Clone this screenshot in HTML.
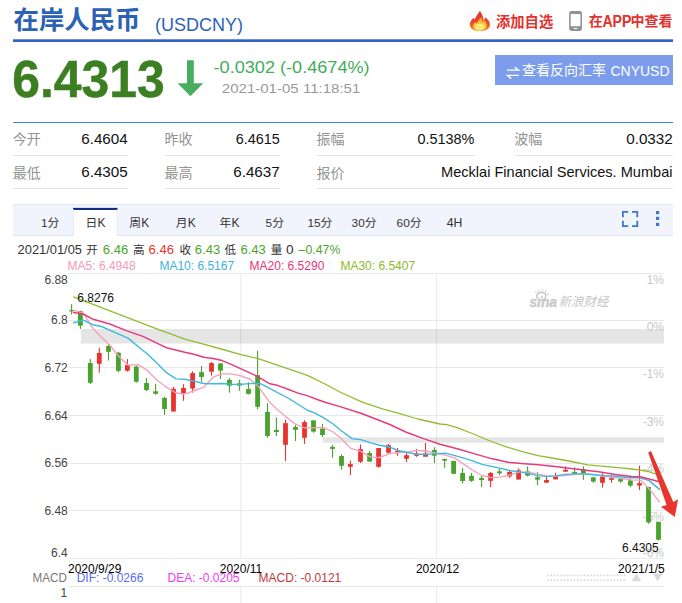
<!DOCTYPE html>
<html><head><meta charset="utf-8"><title>USDCNY</title>
<style>html,body{margin:0;padding:0;background:#fff;}body{width:682px;height:603px;overflow:hidden;position:relative;font-family:"Liberation Sans",sans-serif;}</style></head>
<body>
<svg width="682" height="603" viewBox="0 0 682 603" style="position:absolute;left:0;top:0;display:block" font-family="Liberation Sans, sans-serif">
<rect width="682" height="603" fill="#fff"/>
<text x="13.5" y="28.9" font-size="25.4" font-weight="bold" fill="#2b62b5" font-family="'Liberation Sans', 'Noto Sans CJK SC', sans-serif">在岸人民币</text>
<text x="155" y="30.5" font-size="17.5" fill="#2b62b5" textLength="88" lengthAdjust="spacingAndGlyphs">(USDCNY)</text>
<rect x="13" y="39.3" width="660" height="2.7" fill="#3262c8"/>
<defs><linearGradient id="fg1" x1="0" y1="0" x2="0" y2="1"><stop offset="0" stop-color="#e03426"/><stop offset="0.55" stop-color="#e9452a"/><stop offset="1" stop-color="#f39a2e"/></linearGradient><linearGradient id="fg2" x1="0" y1="0" x2="0" y2="1"><stop offset="0" stop-color="#f59a2f"/><stop offset="0.6" stop-color="#fbd23f"/><stop offset="1" stop-color="#fde44a"/></linearGradient></defs>
<rect x="467" y="10" width="27.8" height="22" fill="#fbfbfb"/>
<path d="M479.9 11 C481.8 13.5 483.3 16.5 483.6 21 C484.2 19.8 484.8 18.5 485.5 17.2 C487.5 19 489.6 21 490 24 C490.5 27.5 487.5 31.1 479.8 31.1 C472.5 31.1 469.3 27.5 469.9 23.4 C470.5 21 472 19.5 473.4 17.8 C473.8 18.5 474.2 19 474.6 19.6 C475.8 16.5 478 14 479.9 11Z" fill="url(#fg1)"/>
<path d="M481.4 17.2 C482 19 482.6 20.5 482.6 22 C483.6 21.5 484.3 21 485 20.5 C486.5 23 487 26 485.5 28 C484 30.2 481.5 30.6 479.6 30.6 C477 30.6 474.5 29.8 473.5 27.5 C472.8 25.5 473.8 23.5 475.2 22 C475.6 22.6 476 23.2 476.4 23.8 C477.5 21 479.5 19 481.4 17.2Z" fill="url(#fg2)"/>
<ellipse cx="479.6" cy="27" rx="4.2" ry="3.2" fill="#fbeb80" opacity="0.9"/>
<text x="496" y="26.5" font-size="14.3" font-weight="bold" fill="#e3312d" font-family="'Liberation Sans', 'Noto Sans CJK SC', sans-serif">添加自选</text>
<rect x="569.1" y="11" width="12.9" height="19.9" rx="2.3" fill="#939393"/>
<rect x="570.7" y="14" width="9.7" height="12.2" fill="#fff"/>
<rect x="573.6" y="27.9" width="3.9" height="1.2" rx="0.6" fill="#fff"/>
<text x="588.8" y="26.2" font-size="14" font-weight="bold" fill="#e3312d" font-family="'Liberation Sans', 'Noto Sans CJK SC', sans-serif">在</text>
<text x="602.4" y="26.7" font-size="15.6" fill="#e3312d" font-weight="bold" textLength="29" lengthAdjust="spacingAndGlyphs">APP</text>
<text x="630.4" y="26.2" font-size="14" font-weight="bold" fill="#e3312d" font-family="'Liberation Sans', 'Noto Sans CJK SC', sans-serif">中查看</text>
<text x="12.2" y="96.6" font-size="51.4" fill="#3b7f22" stroke="#3b7f22" stroke-width="0.5" font-weight="bold" textLength="152.6" lengthAdjust="spacingAndGlyphs">6.4313</text>
<path d="M187 60.3 h6.8 v23 h9.4 L190.4 96.3 L177.6 83.3 h9.4z" fill="#48ad5f"/>
<text x="213.6" y="72.6" font-size="16.4" fill="#44ac5c" textLength="156" lengthAdjust="spacingAndGlyphs">-0.0302 (-0.4674%)</text>
<text x="221.8" y="92.7" font-size="13" fill="#999" textLength="138.5" lengthAdjust="spacingAndGlyphs">2021-01-05 11:18:51</text>
<rect x="495" y="55" width="178" height="30" fill="#7b9deb"/>
<g stroke="#fff" stroke-width="1.4" fill="none"><path d="M507 70.1 H518.6 L514.8 67.2"/><path d="M519 75.4 H507.4 L511.2 78.6"/></g>
<text x="522" y="75.3" font-size="14" fill="#fff" font-family="'Liberation Sans', 'Noto Sans CJK SC', sans-serif">查看反向汇率</text>
<text x="610.5" y="75.7" font-size="14" fill="#fff" textLength="59" lengthAdjust="spacingAndGlyphs">CNYUSD</text>
<rect x="13" y="122" width="660" height="1" fill="#3f7fd6"/>
<rect x="13" y="155" width="115" height="1" fill="#e2e2e2"/>
<rect x="165" y="155" width="115" height="1" fill="#e2e2e2"/>
<rect x="317" y="155" width="158" height="1" fill="#e2e2e2"/>
<rect x="515" y="155" width="158" height="1" fill="#e2e2e2"/>
<rect x="13" y="188" width="115" height="1" fill="#e2e2e2"/>
<rect x="165" y="188" width="115" height="1" fill="#e2e2e2"/>
<rect x="317" y="188" width="356" height="1" fill="#e2e2e2"/>
<text x="12.8" y="144.3" font-size="14" fill="#939393" font-family="'Liberation Sans', 'Noto Sans CJK SC', sans-serif">今开</text>
<text x="164.6" y="144.3" font-size="14" fill="#939393" font-family="'Liberation Sans', 'Noto Sans CJK SC', sans-serif">昨收</text>
<text x="316.6" y="144.3" font-size="14" fill="#939393" font-family="'Liberation Sans', 'Noto Sans CJK SC', sans-serif">振幅</text>
<text x="514.2" y="144.3" font-size="14" fill="#939393" font-family="'Liberation Sans', 'Noto Sans CJK SC', sans-serif">波幅</text>
<text x="12.8" y="177.6" font-size="14" fill="#939393" font-family="'Liberation Sans', 'Noto Sans CJK SC', sans-serif">最低</text>
<text x="164.6" y="177.6" font-size="14" fill="#939393" font-family="'Liberation Sans', 'Noto Sans CJK SC', sans-serif">最高</text>
<text x="316.6" y="177.6" font-size="14" fill="#939393" font-family="'Liberation Sans', 'Noto Sans CJK SC', sans-serif">报价</text>
<text x="127.8" y="144.4" font-size="14.5" fill="#111" text-anchor="end" textLength="46.6" lengthAdjust="spacingAndGlyphs">6.4604</text>
<text x="279.8" y="144.4" font-size="14.5" fill="#111" text-anchor="end" textLength="44" lengthAdjust="spacingAndGlyphs">6.4615</text>
<text x="474.4" y="144.4" font-size="14.5" fill="#111" text-anchor="end" textLength="57" lengthAdjust="spacingAndGlyphs">0.5138%</text>
<text x="672.8" y="144.4" font-size="14.5" fill="#111" text-anchor="end" textLength="46.6" lengthAdjust="spacingAndGlyphs">0.0332</text>
<text x="127.8" y="177.4" font-size="14.5" fill="#111" text-anchor="end" textLength="46.6" lengthAdjust="spacingAndGlyphs">6.4305</text>
<text x="279.8" y="177.4" font-size="14.5" fill="#111" text-anchor="end" textLength="46.6" lengthAdjust="spacingAndGlyphs">6.4637</text>
<text x="672.5" y="177.4" font-size="14.5" fill="#111" text-anchor="end" textLength="231.5" lengthAdjust="spacingAndGlyphs">Mecklai Financial Services. Mumbai</text>
<rect x="13" y="204" width="660" height="32" fill="#f1f4fd"/>
<rect x="13" y="204" width="660" height="1" fill="#e3e8f6"/>
<rect x="13" y="235" width="660" height="1" fill="#dde4f5"/>
<rect x="73" y="208" width="44.6" height="28.3" fill="#fff"/>
<rect x="73" y="207.9" width="44.6" height="2.1" fill="#122c86"/>
<rect x="73" y="209" width="0.8" height="27" fill="#dde4f5"/><rect x="116.8" y="209" width="0.8" height="27" fill="#dde4f5"/>
<text x="41.0" y="227.0" font-size="11.8" fill="#333">1</text>
<text x="47.56" y="226.7" font-size="11.8" fill="#333" font-family="'Liberation Sans', 'Noto Sans CJK SC', sans-serif">分</text>
<text x="85.6" y="226.7" font-size="11.8" fill="#333" font-family="'Liberation Sans', 'Noto Sans CJK SC', sans-serif">日</text>
<text x="97.6" y="227.0" font-size="12" fill="#333">K</text>
<text x="129.3" y="226.7" font-size="11.8" fill="#333" font-family="'Liberation Sans', 'Noto Sans CJK SC', sans-serif">周</text>
<text x="141.3" y="227.0" font-size="12" fill="#333">K</text>
<text x="175.8" y="226.7" font-size="11.8" fill="#333" font-family="'Liberation Sans', 'Noto Sans CJK SC', sans-serif">月</text>
<text x="187.8" y="227.0" font-size="12" fill="#333">K</text>
<text x="219.5" y="226.7" font-size="11.8" fill="#333" font-family="'Liberation Sans', 'Noto Sans CJK SC', sans-serif">年</text>
<text x="231.5" y="227.0" font-size="12" fill="#333">K</text>
<text x="265.6" y="227.0" font-size="11.8" fill="#333">5</text>
<text x="272.16" y="226.7" font-size="11.8" fill="#333" font-family="'Liberation Sans', 'Noto Sans CJK SC', sans-serif">分</text>
<text x="307.5" y="227.0" font-size="11.8" fill="#333">15</text>
<text x="320.62" y="226.7" font-size="11.8" fill="#333" font-family="'Liberation Sans', 'Noto Sans CJK SC', sans-serif">分</text>
<text x="351.6" y="227.0" font-size="11.8" fill="#333">30</text>
<text x="364.72" y="226.7" font-size="11.8" fill="#333" font-family="'Liberation Sans', 'Noto Sans CJK SC', sans-serif">分</text>
<text x="396.6" y="227.0" font-size="11.8" fill="#333">60</text>
<text x="409.72" y="226.7" font-size="11.8" fill="#333" font-family="'Liberation Sans', 'Noto Sans CJK SC', sans-serif">分</text>
<text x="446.8" y="227.0" font-size="12.2" fill="#333">4H</text>
<g fill="none" stroke="#3c78c8" stroke-width="1.8"><path d="M622.9 217.2 v-5.3 h5.3"/><path d="M632 211.9 h5.3 v5.3"/><path d="M637.3 220.8 v5.3 h-5.3"/><path d="M628.2 226.1 h-5.3 v-5.3"/></g>
<rect x="656" y="211" width="3.2" height="3.2" fill="#3c78c8"/>
<rect x="656" y="216.8" width="3.2" height="3.2" fill="#3c78c8"/>
<rect x="656" y="222.8" width="3.2" height="3.2" fill="#3c78c8"/>
<text x="17.6" y="253.8" font-size="12" fill="#333" textLength="64.4" lengthAdjust="spacingAndGlyphs">2021/01/05</text>
<text x="86.2" y="253.6" font-size="11.6" fill="#333" font-family="'Liberation Sans', 'Noto Sans CJK SC', sans-serif">开</text>
<text x="102.8" y="253.8" font-size="12" fill="#4aa52e" textLength="25.4" lengthAdjust="spacingAndGlyphs">6.46</text>
<text x="133" y="253.6" font-size="11.6" fill="#333" font-family="'Liberation Sans', 'Noto Sans CJK SC', sans-serif">高</text>
<text x="148.5" y="253.8" font-size="12" fill="#e8332e" textLength="25.4" lengthAdjust="spacingAndGlyphs">6.46</text>
<text x="179.4" y="253.6" font-size="11.6" fill="#333" font-family="'Liberation Sans', 'Noto Sans CJK SC', sans-serif">收</text>
<text x="194.8" y="253.8" font-size="12" fill="#4aa52e" textLength="25.4" lengthAdjust="spacingAndGlyphs">6.43</text>
<text x="224.6" y="253.6" font-size="11.6" fill="#333" font-family="'Liberation Sans', 'Noto Sans CJK SC', sans-serif">低</text>
<text x="240.4" y="253.8" font-size="12" fill="#4aa52e" textLength="25.4" lengthAdjust="spacingAndGlyphs">6.43</text>
<text x="270.8" y="253.6" font-size="11.6" fill="#333" font-family="'Liberation Sans', 'Noto Sans CJK SC', sans-serif">量</text>
<text x="286" y="253.8" font-size="12" fill="#333" textLength="7.6" lengthAdjust="spacingAndGlyphs">0</text>
<text x="298.6" y="253.8" font-size="12" fill="#4aa52e" textLength="41.8" lengthAdjust="spacingAndGlyphs">–0.47%</text>
<text x="67.6" y="269.8" font-size="12" fill="#f59ab8">MA5: 6.4948</text>
<text x="159.4" y="269.8" font-size="12" fill="#38b4da">MA10: 6.5167</text>
<text x="249.6" y="269.8" font-size="12" fill="#e8357a">MA20: 6.5290</text>
<text x="340.4" y="269.8" font-size="12" fill="#8cba2c">MA30: 6.5407</text>
<rect x="67.5" y="273" width="596.5" height="1" fill="#e9e9e9"/>
<rect x="67.5" y="320" width="596.5" height="1" fill="#e9e9e9"/>
<rect x="67.5" y="367" width="596.5" height="1" fill="#e9e9e9"/>
<rect x="67.5" y="415" width="596.5" height="1" fill="#e9e9e9"/>
<rect x="67.5" y="463" width="596.5" height="1" fill="#e9e9e9"/>
<rect x="67.5" y="510" width="596.5" height="1" fill="#e9e9e9"/>
<rect x="67.5" y="558" width="596.5" height="1" fill="#e9e9e9"/>
<rect x="67.5" y="586" width="596.5" height="1" fill="#e9e9e9"/>
<rect x="240.3" y="273" width="1" height="285" fill="#e9e9e9"/>
<rect x="240.3" y="586" width="1" height="17" fill="#e9e9e9"/>
<rect x="436.1" y="273" width="1" height="285" fill="#e9e9e9"/>
<rect x="436.1" y="586" width="1" height="17" fill="#e9e9e9"/>
<rect x="81" y="329" width="583" height="14.5" fill="#000" opacity="0.1"/>
<rect x="323" y="437.2" width="341" height="5.6" fill="#000" opacity="0.1"/>
<text x="664" y="284.3" font-size="12" fill="#c8c8c8" text-anchor="end">1%</text>
<text x="664" y="330.6" font-size="12" fill="#c8c8c8" text-anchor="end">0%</text>
<text x="664" y="378.2" font-size="12" fill="#c8c8c8" text-anchor="end">-1%</text>
<text x="664" y="425.7" font-size="12" fill="#c8c8c8" text-anchor="end">-3%</text>
<text x="664" y="473.2" font-size="12" fill="#c8c8c8" text-anchor="end">-4%</text>
<text x="664" y="521.3" font-size="12" fill="#c8c8c8" text-anchor="end">-5%</text>
<text x="664" y="557.2" font-size="12" fill="#c8c8c8" text-anchor="end">-6%</text>
<text x="67.8" y="284.3" font-size="12" fill="#444" text-anchor="end">6.88</text>
<text x="67.8" y="324.4" font-size="12" fill="#444" text-anchor="end">6.8</text>
<text x="67.8" y="372.2" font-size="12" fill="#444" text-anchor="end">6.72</text>
<text x="67.8" y="419.9" font-size="12" fill="#444" text-anchor="end">6.64</text>
<text x="67.8" y="467.2" font-size="12" fill="#444" text-anchor="end">6.56</text>
<text x="67.8" y="515" font-size="12" fill="#444" text-anchor="end">6.48</text>
<text x="67.8" y="557.2" font-size="12" fill="#444" text-anchor="end">6.4</text>
<text x="529.4" y="306.6" font-size="13.8" fill="#cbcbcb" stroke="#cbcbcb" stroke-width="0.45" font-weight="bold" font-style="italic" textLength="27.6" lengthAdjust="spacingAndGlyphs">sina</text>
<ellipse cx="541.3" cy="296.1" rx="4.5" ry="3.7" fill="#fff" stroke="#cbcbcb" stroke-width="1.7"/><circle cx="542" cy="296.8" r="1.15" fill="#cbcbcb"/>
<path d="M536.6 292.7 l-1.5 -1.4 M539.2 291.5 l-.5 -1.6 M542.3 291.3 l.4 -1.6 M545.2 292.3 l1.3 -1.3 M547 294.5 l1.6 -.8" fill="none" stroke="#cbcbcb" stroke-width="1.1"/>
<text transform="translate(561.30,295.40) skewX(-14)" x="0" y="11" font-size="12.5" fill="#c6c6c6" font-family="'Liberation Sans', 'Noto Sans CJK SC', sans-serif">新浪财经</text>
<rect x="71.05" y="304.1" width="1.1" height="10.4" fill="#49a22c"/>
<rect x="69.20" y="310.2" width="4.8" height="1.2" fill="#49a22c"/>
<rect x="79.85" y="310.5" width="1.1" height="18.5" fill="#49a22c"/>
<rect x="78.00" y="311.2" width="4.8" height="14.4" fill="#49a22c"/>
<rect x="89.75" y="359.1" width="1.1" height="24.9" fill="#49a22c"/>
<rect x="87.90" y="363" width="4.8" height="19.8" fill="#49a22c"/>
<rect x="98.75" y="347.7" width="1.1" height="24.9" fill="#e8332e"/>
<rect x="96.90" y="353" width="4.8" height="10.8" fill="#e8332e"/>
<rect x="107.95" y="344.4" width="1.1" height="16.1" fill="#49a22c"/>
<rect x="106.10" y="346" width="4.8" height="5.8" fill="#49a22c"/>
<rect x="117.85" y="351.8" width="1.1" height="20.6" fill="#49a22c"/>
<rect x="116.00" y="352.7" width="4.8" height="18.2" fill="#49a22c"/>
<rect x="126.85" y="359.1" width="1.1" height="12.6" fill="#e8332e"/>
<rect x="125.00" y="365.1" width="4.8" height="5.6" fill="#e8332e"/>
<rect x="135.75" y="365.4" width="1.1" height="17.4" fill="#49a22c"/>
<rect x="133.90" y="366.6" width="4.8" height="15.1" fill="#49a22c"/>
<rect x="145.95" y="378" width="1.1" height="13.0" fill="#49a22c"/>
<rect x="144.10" y="383" width="4.8" height="7.0" fill="#49a22c"/>
<rect x="155.05" y="383.8" width="1.1" height="10.8" fill="#49a22c"/>
<rect x="153.20" y="391.3" width="4.8" height="2.5" fill="#49a22c"/>
<rect x="163.95" y="396.8" width="1.1" height="18.1" fill="#49a22c"/>
<rect x="162.10" y="397.9" width="4.8" height="11.2" fill="#49a22c"/>
<rect x="172.95" y="386.8" width="1.1" height="24.7" fill="#e8332e"/>
<rect x="171.10" y="388.8" width="4.8" height="22.7" fill="#e8332e"/>
<rect x="182.95" y="384.2" width="1.1" height="16.6" fill="#e8332e"/>
<rect x="181.10" y="388" width="4.8" height="5.0" fill="#e8332e"/>
<rect x="192.05" y="371.4" width="1.1" height="21.2" fill="#e8332e"/>
<rect x="190.20" y="373.1" width="4.8" height="15.4" fill="#e8332e"/>
<rect x="200.95" y="365.9" width="1.1" height="15.8" fill="#49a22c"/>
<rect x="199.10" y="372.2" width="4.8" height="4.7" fill="#49a22c"/>
<rect x="210.95" y="362" width="1.1" height="13.6" fill="#e8332e"/>
<rect x="209.10" y="363.1" width="4.8" height="8.6" fill="#e8332e"/>
<rect x="219.95" y="363.4" width="1.1" height="15.5" fill="#49a22c"/>
<rect x="218.10" y="363.4" width="4.8" height="7.2" fill="#49a22c"/>
<rect x="228.85" y="377.9" width="1.1" height="14.8" fill="#49a22c"/>
<rect x="227.00" y="379.8" width="4.8" height="5.9" fill="#49a22c"/>
<rect x="238.85" y="379.8" width="1.1" height="10.9" fill="#49a22c"/>
<rect x="237.00" y="383.4" width="4.8" height="2.2" fill="#49a22c"/>
<rect x="247.95" y="382.3" width="1.1" height="12.2" fill="#49a22c"/>
<rect x="246.10" y="388.9" width="4.8" height="5.0" fill="#49a22c"/>
<rect x="257.05" y="350.8" width="1.1" height="58.5" fill="#49a22c"/>
<rect x="255.20" y="375.2" width="4.8" height="31.6" fill="#49a22c"/>
<rect x="266.95" y="403" width="1.1" height="34.8" fill="#49a22c"/>
<rect x="265.10" y="412" width="4.8" height="24.0" fill="#49a22c"/>
<rect x="275.85" y="417.4" width="1.1" height="18.6" fill="#49a22c"/>
<rect x="274.00" y="430" width="4.8" height="2.0" fill="#49a22c"/>
<rect x="284.95" y="419.6" width="1.1" height="41.3" fill="#e8332e"/>
<rect x="283.10" y="423.2" width="4.8" height="21.6" fill="#e8332e"/>
<rect x="294.95" y="424.8" width="1.1" height="16.3" fill="#49a22c"/>
<rect x="293.10" y="427" width="4.8" height="2.8" fill="#49a22c"/>
<rect x="303.95" y="420.2" width="1.1" height="23.7" fill="#e8332e"/>
<rect x="302.10" y="422.1" width="4.8" height="15.7" fill="#e8332e"/>
<rect x="312.95" y="420.4" width="1.1" height="12.4" fill="#49a22c"/>
<rect x="311.10" y="420.4" width="4.8" height="11.2" fill="#49a22c"/>
<rect x="321.95" y="424" width="1.1" height="12.9" fill="#49a22c"/>
<rect x="320.10" y="428.6" width="4.8" height="6.4" fill="#49a22c"/>
<rect x="331.95" y="444.8" width="1.1" height="12.9" fill="#49a22c"/>
<rect x="330.10" y="446.9" width="4.8" height="2.0" fill="#49a22c"/>
<rect x="340.95" y="454.2" width="1.1" height="15.4" fill="#49a22c"/>
<rect x="339.10" y="456" width="4.8" height="9.8" fill="#49a22c"/>
<rect x="349.85" y="460.5" width="1.1" height="14.6" fill="#e8332e"/>
<rect x="348.00" y="464.1" width="4.8" height="2.7" fill="#e8332e"/>
<rect x="359.95" y="444.4" width="1.1" height="18.6" fill="#e8332e"/>
<rect x="358.10" y="449.2" width="4.8" height="12.6" fill="#e8332e"/>
<rect x="369.05" y="450.9" width="1.1" height="10.7" fill="#49a22c"/>
<rect x="367.20" y="453" width="4.8" height="8.6" fill="#49a22c"/>
<rect x="378.05" y="448" width="1.1" height="19.6" fill="#e8332e"/>
<rect x="376.20" y="448" width="4.8" height="18.8" fill="#e8332e"/>
<rect x="387.95" y="443.9" width="1.1" height="9.6" fill="#e8332e"/>
<rect x="386.10" y="445.2" width="4.8" height="7.5" fill="#e8332e"/>
<rect x="396.95" y="448" width="1.1" height="7.8" fill="#e8332e"/>
<rect x="395.10" y="451" width="4.8" height="1.5" fill="#e8332e"/>
<rect x="405.95" y="453" width="1.1" height="9.1" fill="#e8332e"/>
<rect x="404.10" y="455.2" width="4.8" height="3.6" fill="#e8332e"/>
<rect x="415.95" y="448.9" width="1.1" height="7.9" fill="#e8332e"/>
<rect x="414.10" y="453.5" width="4.8" height="2.3" fill="#e8332e"/>
<rect x="424.95" y="443.1" width="1.1" height="13.6" fill="#e8332e"/>
<rect x="423.10" y="453.5" width="4.8" height="3.2" fill="#e8332e"/>
<rect x="433.85" y="447.2" width="1.1" height="15.8" fill="#49a22c"/>
<rect x="432.00" y="450" width="4.8" height="5.7" fill="#49a22c"/>
<rect x="444.05" y="458.9" width="1.1" height="8.8" fill="#49a22c"/>
<rect x="442.20" y="458.9" width="4.8" height="1.7" fill="#49a22c"/>
<rect x="453.05" y="460.9" width="1.1" height="12.9" fill="#49a22c"/>
<rect x="451.20" y="460.9" width="4.8" height="12.9" fill="#49a22c"/>
<rect x="462.05" y="468" width="1.1" height="15.3" fill="#49a22c"/>
<rect x="460.20" y="473" width="4.8" height="8.0" fill="#49a22c"/>
<rect x="470.95" y="473" width="1.1" height="8.8" fill="#49a22c"/>
<rect x="469.10" y="475.8" width="4.8" height="5.0" fill="#49a22c"/>
<rect x="481.05" y="476" width="1.1" height="11.1" fill="#49a22c"/>
<rect x="479.20" y="478" width="4.8" height="2.0" fill="#49a22c"/>
<rect x="490.05" y="471.9" width="1.1" height="15.2" fill="#e8332e"/>
<rect x="488.20" y="473" width="4.8" height="7.8" fill="#e8332e"/>
<rect x="498.95" y="468.9" width="1.1" height="6.3" fill="#49a22c"/>
<rect x="497.10" y="471.4" width="4.8" height="1.9" fill="#49a22c"/>
<rect x="509.05" y="470.9" width="1.1" height="6.9" fill="#e8332e"/>
<rect x="507.20" y="471.9" width="4.8" height="4.5" fill="#e8332e"/>
<rect x="518.05" y="468.4" width="1.1" height="11.1" fill="#e8332e"/>
<rect x="516.20" y="470.3" width="4.8" height="9.2" fill="#e8332e"/>
<rect x="527.05" y="466.4" width="1.1" height="10.0" fill="#49a22c"/>
<rect x="525.20" y="471.4" width="4.8" height="4.2" fill="#49a22c"/>
<rect x="536.95" y="472.2" width="1.1" height="12.8" fill="#49a22c"/>
<rect x="535.10" y="477.2" width="4.8" height="2.5" fill="#49a22c"/>
<rect x="545.95" y="476.9" width="1.1" height="5.8" fill="#e8332e"/>
<rect x="544.10" y="480" width="4.8" height="2.7" fill="#e8332e"/>
<rect x="555.05" y="472.7" width="1.1" height="6.7" fill="#e8332e"/>
<rect x="553.20" y="476.4" width="4.8" height="3.0" fill="#e8332e"/>
<rect x="564.95" y="466.4" width="1.1" height="5.3" fill="#e8332e"/>
<rect x="563.10" y="469.8" width="4.8" height="1.9" fill="#e8332e"/>
<rect x="574.05" y="467.3" width="1.1" height="6.9" fill="#49a22c"/>
<rect x="572.20" y="471.9" width="4.8" height="2.3" fill="#49a22c"/>
<rect x="582.85" y="466.3" width="1.1" height="13.5" fill="#49a22c"/>
<rect x="581.00" y="469.3" width="4.8" height="4.7" fill="#49a22c"/>
<rect x="592.85" y="477.3" width="1.1" height="5.5" fill="#49a22c"/>
<rect x="591.00" y="477.3" width="4.8" height="4.3" fill="#49a22c"/>
<rect x="601.95" y="473.2" width="1.1" height="14.4" fill="#e8332e"/>
<rect x="600.10" y="476.5" width="4.8" height="6.3" fill="#e8332e"/>
<rect x="610.95" y="475.2" width="1.1" height="7.6" fill="#e8332e"/>
<rect x="609.10" y="478.1" width="4.8" height="1.7" fill="#e8332e"/>
<rect x="620.05" y="478.5" width="1.1" height="4.3" fill="#49a22c"/>
<rect x="618.20" y="478.5" width="4.8" height="3.0" fill="#49a22c"/>
<rect x="629.85" y="478.5" width="1.1" height="8.4" fill="#49a22c"/>
<rect x="628.00" y="480.3" width="4.8" height="5.3" fill="#49a22c"/>
<rect x="638.95" y="465.7" width="1.1" height="24.4" fill="#e8332e"/>
<rect x="637.10" y="483.1" width="4.8" height="2.5" fill="#e8332e"/>
<rect x="647.95" y="486.9" width="1.1" height="36.8" fill="#49a22c"/>
<rect x="646.10" y="486.9" width="4.8" height="35.5" fill="#49a22c"/>
<rect x="657.95" y="521.8" width="1.1" height="18.7" fill="#49a22c"/>
<rect x="656.10" y="521.8" width="4.8" height="17.9" fill="#49a22c"/>
<path d="M73.6 310.2 L83.2 313.2 L93.2 328.9 L101.5 337.2 L109.8 345.0 L118.9 356.6 L128.0 365.1 L138.0 364.6 L146.6 369.8 L156.6 379.7 L166.5 387.2 L176.0 393.0 L184.8 394.1 L194.7 390.5 L203.8 387.2 L213.0 377.2 L222.1 373.9 L231.2 373.8 L239.9 375.7 L249.9 379.0 L258.2 386.4 L269.0 401.4 L276.6 409.1 L285.7 416.6 L295.3 424.0 L304.4 427.9 L313.4 427.9 L322.5 427.4 L332.5 431.5 L341.3 438.5 L350.4 448.1 L360.7 451.4 L370.7 457.2 L379.8 457.5 L388.9 453.8 L398.0 452.7 L407.2 452.2 L416.3 450.5 L426.2 451.0 L434.5 453.0 L445.7 455.1 L454.9 458.1 L464.0 464.4 L473.1 470.5 L482.2 475.5 L491.3 477.7 L500.5 477.2 L509.6 475.2 L518.7 472.2 L527.4 472.2 L537.3 473.9 L546.5 475.9 L555.6 476.4 L564.7 475.6 L574.7 474.7 L583.8 473.9 L593.7 474.4 L598.6 475.3 L611.9 477.3 L621.8 478.5 L630.9 479.8 L640.9 480.1 L649.2 488.9 L659.6 501.9" fill="none" stroke="#f5a0bf" stroke-width="1.35" stroke-linejoin="round" stroke-linecap="round"/>
<path d="M73.6 322.8 L83.2 320.2 L93.2 324.8 L101.5 326.5 L114.7 332.3 L128.0 338.1 L142.9 350.5 L146.6 353.2 L156.6 362.8 L166.5 372.7 L176.0 378.9 L184.8 379.2 L194.7 381.4 L203.8 383.5 L213.0 383.8 L222.1 383.5 L231.2 384.2 L239.9 384.4 L249.9 383.6 L259.8 383.4 L269.0 388.1 L288.0 398.0 L307.9 410.5 L313.4 412.4 L322.5 417.1 L332.5 423.5 L341.3 430.7 L352.0 438.6 L361.6 439.8 L371.5 443.1 L379.8 445.2 L389.8 447.2 L398.0 450.5 L406.3 452.2 L416.3 454.2 L426.2 454.3 L435.0 453.9 L445.7 453.1 L454.9 455.6 L464.0 458.1 L473.1 461.1 L482.2 464.4 L491.3 466.4 L500.5 468.4 L509.6 470.5 L518.7 471.9 L527.4 473.1 L537.3 475.6 L546.5 476.4 L555.6 475.9 L564.7 474.4 L574.7 473.9 L583.8 473.9 L593.7 474.7 L605.0 475.6 L615.2 476.2 L630.1 477.8 L640.0 477.8 L649.2 480.6 L659.6 489.4" fill="none" stroke="#3cb9dd" stroke-width="1.4" stroke-linejoin="round" stroke-linecap="round"/>
<path d="M73.6 312.4 L83.2 314.0 L93.2 319.3 L109.8 324.0 L126.3 330.6 L142.9 336.4 L160.0 344.7 L166.5 347.7 L184.8 352.3 L194.7 354.5 L203.8 357.3 L213.0 358.5 L222.1 360.6 L231.2 364.4 L240.0 368.4 L258.2 376.8 L269.0 383.4 L278.0 385.6 L288.0 389.3 L298.0 393.1 L307.9 395.9 L317.9 399.7 L325.0 402.2 L340.0 406.6 L361.6 413.5 L381.5 421.2 L389.8 424.5 L406.3 432.3 L422.9 438.4 L440.0 444.2 L458.2 449.0 L474.8 453.9 L491.3 458.6 L507.9 462.2 L521.6 463.4 L538.2 464.8 L554.8 466.4 L571.3 468.6 L587.9 470.6 L598.6 471.8 L615.2 474.5 L631.8 476.5 L640.0 476.8 L649.2 479.0 L658.6 481.5" fill="none" stroke="#e8397b" stroke-width="1.5" stroke-linejoin="round" stroke-linecap="round"/>
<path d="M73.6 296.9 L160.0 330.1 L166.5 332.4 L184.8 339.1 L206.3 344.9 L222.9 349.5 L240.0 354.3 L258.2 358.7 L291.3 369.9 L307.9 375.7 L325.0 384.0 L340.0 392.0 L361.6 401.9 L381.5 408.6 L398.0 413.2 L417.9 419.0 L440.0 424.0 L446.6 424.6 L456.5 427.4 L474.8 434.5 L491.3 441.5 L507.9 447.3 L525.0 452.3 L538.2 455.7 L554.8 458.5 L571.3 461.5 L587.9 464.8 L598.6 465.9 L615.2 467.4 L631.8 469.0 L640.0 470.2 L648.3 471.5 L658.3 474.8" fill="none" stroke="#90bd30" stroke-width="1.3" stroke-linejoin="round" stroke-linecap="round"/>
<text x="77.3" y="302" font-size="12" fill="#111">6.8276</text>
<text x="622" y="552.2" font-size="12" fill="#111">6.4305</text>
<path d="M648.2 452.6 L651 451 L673.3 501.9 L678.1 499.3 L674.8 516.9 L660.9 506.7 L666.6 504.9Z" fill="#e8352e"/>
<text x="68" y="572.5" font-size="12" fill="#000">2020/9/29</text>
<text x="241" y="572.5" font-size="12" fill="#000" text-anchor="middle">2020/11</text>
<text x="437.6" y="572.5" font-size="12" fill="#000" text-anchor="middle">2020/12</text>
<text x="664.8" y="572.5" font-size="12" fill="#000" text-anchor="end">2021/1/5</text>
<text x="32.6" y="582.3" font-size="12" fill="#777" textLength="34.3" lengthAdjust="spacingAndGlyphs">MACD</text>
<text x="76.7" y="582.3" font-size="12" fill="#5c6bf0">DIF: -0.0266</text>
<text x="167.5" y="582.3" font-size="12" fill="#ee3bee">DEA: -0.0205</text>
<text x="258.6" y="582.3" font-size="12" fill="#c0393b">MACD: -0.0121</text>
<text x="67.3" y="597.2" font-size="12" fill="#444" text-anchor="end">1</text>
<rect x="547.00" y="574.6" width="1.7" height="1.7" fill="#dadada"/>
<rect x="550.33" y="574.6" width="1.7" height="1.7" fill="#dadada"/>
<rect x="553.66" y="574.6" width="1.7" height="1.7" fill="#dadada"/>
<rect x="556.99" y="574.6" width="1.7" height="1.7" fill="#dadada"/>
<rect x="560.32" y="574.6" width="1.7" height="1.7" fill="#dadada"/>
<rect x="563.65" y="574.6" width="1.7" height="1.7" fill="#dadada"/>
<rect x="566.98" y="574.6" width="1.7" height="1.7" fill="#dadada"/>
<rect x="570.31" y="574.6" width="1.7" height="1.7" fill="#dadada"/>
<rect x="573.64" y="574.6" width="1.7" height="1.7" fill="#dadada"/>
<rect x="576.97" y="574.6" width="1.7" height="1.7" fill="#dadada"/>
<rect x="580.30" y="574.6" width="1.7" height="1.7" fill="#dadada"/>
<rect x="583.63" y="574.6" width="1.7" height="1.7" fill="#dadada"/>
<rect x="586.96" y="574.6" width="1.7" height="1.7" fill="#dadada"/>
<rect x="590.29" y="574.6" width="1.7" height="1.7" fill="#dadada"/>
<rect x="593.62" y="574.6" width="1.7" height="1.7" fill="#dadada"/>
<rect x="596.95" y="574.6" width="1.7" height="1.7" fill="#dadada"/>
<rect x="600.28" y="574.6" width="1.7" height="1.7" fill="#dadada"/>
<rect x="603.61" y="574.6" width="1.7" height="1.7" fill="#dadada"/>
<rect x="606.94" y="574.6" width="1.7" height="1.7" fill="#dadada"/>
<rect x="610.27" y="574.6" width="1.7" height="1.7" fill="#dadada"/>
<rect x="613.60" y="574.6" width="1.7" height="1.7" fill="#dadada"/>
<rect x="616.93" y="574.6" width="1.7" height="1.7" fill="#dadada"/>
<rect x="620.26" y="574.6" width="1.7" height="1.7" fill="#dadada"/>
<rect x="623.59" y="574.6" width="1.7" height="1.7" fill="#dadada"/>
<rect x="547.00" y="579.4" width="1.7" height="1.7" fill="#dadada"/>
<rect x="550.33" y="579.4" width="1.7" height="1.7" fill="#dadada"/>
<rect x="553.66" y="579.4" width="1.7" height="1.7" fill="#dadada"/>
<rect x="556.99" y="579.4" width="1.7" height="1.7" fill="#dadada"/>
<rect x="560.32" y="579.4" width="1.7" height="1.7" fill="#dadada"/>
<rect x="563.65" y="579.4" width="1.7" height="1.7" fill="#dadada"/>
<rect x="566.98" y="579.4" width="1.7" height="1.7" fill="#dadada"/>
<rect x="570.31" y="579.4" width="1.7" height="1.7" fill="#dadada"/>
<rect x="573.64" y="579.4" width="1.7" height="1.7" fill="#dadada"/>
<rect x="576.97" y="579.4" width="1.7" height="1.7" fill="#dadada"/>
<rect x="580.30" y="579.4" width="1.7" height="1.7" fill="#dadada"/>
<rect x="583.63" y="579.4" width="1.7" height="1.7" fill="#dadada"/>
<rect x="586.96" y="579.4" width="1.7" height="1.7" fill="#dadada"/>
<rect x="590.29" y="579.4" width="1.7" height="1.7" fill="#dadada"/>
<rect x="593.62" y="579.4" width="1.7" height="1.7" fill="#dadada"/>
<rect x="596.95" y="579.4" width="1.7" height="1.7" fill="#dadada"/>
<rect x="600.28" y="579.4" width="1.7" height="1.7" fill="#dadada"/>
<rect x="603.61" y="579.4" width="1.7" height="1.7" fill="#dadada"/>
<rect x="606.94" y="579.4" width="1.7" height="1.7" fill="#dadada"/>
<rect x="610.27" y="579.4" width="1.7" height="1.7" fill="#dadada"/>
<rect x="613.60" y="579.4" width="1.7" height="1.7" fill="#dadada"/>
<rect x="616.93" y="579.4" width="1.7" height="1.7" fill="#dadada"/>
<rect x="620.26" y="579.4" width="1.7" height="1.7" fill="#dadada"/>
<rect x="623.59" y="579.4" width="1.7" height="1.7" fill="#dadada"/>
<path d="M631.6 581.3 L641.3 581.3 L636.45 573.4Z" fill="#dadada"/>
<path d="M653 573.4 L662.4 573.4 L657.7 581.3Z" fill="#dadada"/>
</svg>
</body></html>
